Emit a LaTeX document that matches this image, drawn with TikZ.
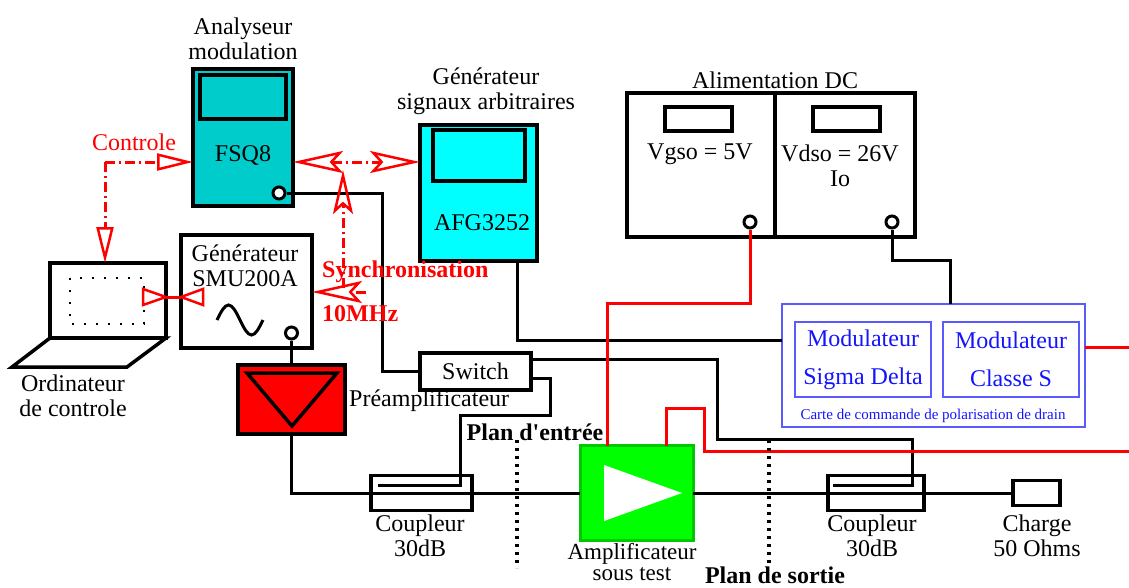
\documentclass[tikz,border=0pt]{standalone}
\usepackage{fontspec}
\setmainfont{Liberation Serif}
\usetikzlibrary{arrows.meta}

\definecolor{fsqcyan}{RGB}{0,204,204}
\definecolor{afgcyan}{RGB}{0,255,255}
\definecolor{dutgreen}{RGB}{0,255,0}
\definecolor{dutedge}{RGB}{0,200,0}
\definecolor{modline}{RGB}{90,90,255}
\definecolor{modtext}{RGB}{20,20,255}

\newcommand{\lblfont}{\fontsize{24}{25}\selectfont}

\tikzset{
  ctltip/.tip={Triangle[open, length=36pt, width=17pt, line width=2.5pt]},
  synctip/.tip={Stealth[open, length=50pt, width=22pt, inset=10pt, line width=2.5pt]},
  droptip/.tip={Stealth[open, length=44pt, width=20pt, inset=9pt, line width=2.5pt]},
}

\begin{document}
\begin{tikzpicture}[
    x=1pt, y=-1pt,
    txt/.style={font=\lblfont, align=center, inner sep=0pt},
    unit/.style={draw, line width=3.5pt, inner sep=0pt, outer sep=0pt},
    wh/.style 2 args={minimum width=#1pt, minimum height=#2pt},
    port/.style={circle, draw, line width=3pt, fill=white, minimum size=12pt, inner sep=0pt},
    wire/.style={line width=3pt},
    bias/.style={draw=red, line width=3pt},
    ctrl/.style={draw=red, line width=3pt, dash pattern=on 10pt off 4pt on 2pt off 4pt},
    plane/.style={line width=3.5pt, dash pattern=on 3pt off 5pt},
    modbox/.style={draw=modline, line width=1.8pt, inner sep=0pt, outer sep=0pt},
  ]
  \useasboundingbox (0,0) rectangle (1129,587);

  % analyseur FSQ8
  \node[unit, wh={100}{137}, fill=fsqcyan] (fsq) at (243,137.5) {};
  \node[unit, wh={86}{44}] (fsqscreen) at (243,97) {};
  \node[txt] (fsqname) at (243,155) {FSQ8};
  \node[txt] (fsqlabel) at (243,39) {Analyseur\\modulation};
  \node[port] (fsqport) at (279,193) {};

  % generateur AFG
  \node[unit, wh={117}{136}, fill=afgcyan] (afg) at (478.5,193) {};
  \node[unit, wh={92}{51}] (afgscreen) at (479,155.5) {};
  \node[txt] (afgname) at (482,223) {AFG3252};
  \node[txt] (afglabel) at (486,91) {Générateur\\signaux arbitraires};

  % ordinateur
  \node[unit, wh={116}{75}] (pc) at (108,300.5) {};
  \draw[line width=3.5pt] (pc.south west) -- (pc.south east) -- (127,367) -- (12,367) -- cycle;
  \draw[line width=1.5pt, dash pattern=on 2pt off 10pt] (70,278) rectangle (144,324);
  \node[txt] (pclabel) at (73,396) {Ordinateur\\de controle};

  % generateur SMU
  \node[unit, wh={131}{113}] (smu) at (246.5,291.5) {};
  \node[txt] (smuname) at (245,265.5) {Générateur\\SMU200A};
  \draw[wire] (217,320) sin (228.5,305) cos (240,320) sin (251.5,335) cos (263,320);
  \node[port] (smuport) at (291.5,333) {};

  % preampli
  \node[unit, wh={107}{69}, fill=red] (preamp) at (291.5,399.5) {};
  \draw[line width=3.5pt] (247,373) -- (337,373) -- (292,426) -- cycle;
  \node[txt, anchor=west] (preamplabel) at (349,401) {Préamplificateur};

  % switch
  \node[unit, txt, wh={111}{37}] (sw) at (475.5,371.5) {Switch};

  % coupleurs, ampli, charge
  \node[unit, wh={101}{35}] (cpl1) at (421.5,493) {};
  \node[txt] (cpl1label) at (420,536) {Coupleur\\30dB};
  \node[draw=dutedge, line width=3pt, fill=dutgreen, wh={113}{95}, inner sep=0pt, outer sep=0pt] (dut) at (636.5,493) {};
  \fill[white] (604,465) -- (604,521) -- (682,493) -- cycle;
  \node[txt, font=\fontsize{23}{21}\selectfont, anchor=north] (dutlabel) at (632,543) {Amplificateur\\sous test};
  \node[unit, wh={96}{35}] (cpl2) at (876,493) {};
  \node[txt] (cpl2label) at (872,536) {Coupleur\\30dB};
  \node[unit, wh={47}{25}] (load) at (1036.5,493) {};
  \node[txt] (loadlabel) at (1037,536) {Charge\\50 Ohms};

  % alimentation DC
  \node[unit, wh={148}{144}] (vgs) at (701,165) {};
  \node[unit, wh={140}{144}] (vds) at (845,165) {};
  \node[unit, wh={67}{24}] (vgsdisp) at (698.5,119) {};
  \node[unit, wh={67}{24}] (vdsdisp) at (846.5,119) {};
  \node[txt] (vgsval) at (700,154) {Vgso = 5V};
  \node[txt] (vdsval) at (840,166) {Vdso = 26V\\Io};
  \node[txt] (dclabel) at (775,80) {Alimentation DC};
  \node[port] (dcA) at (750,222) {};
  \node[port] (dcB) at (892,222) {};

  % carte modulateur
  \node[modbox, wh={303}{123}] (mod) at (933.5,365.5) {};
  \node[modbox, wh={136}{75}, txt, text=modtext] (sigdelta) at (863,359.5) {Modulateur\\[13pt]Sigma Delta};
  \node[modbox, wh={136}{75}, txt, text=modtext] (classs) at (1011,359.5) {Modulateur\\[13pt]Classe S};
  \node[text=modtext, font=\fontsize{15}{18}\selectfont, inner sep=0pt] (modlabel) at (933,416) {Carte de commande de polarisation de drain};

  % liaisons RF
  \coordinate (afgout) at (517,261);
  \coordinate (modin) at (782,340);
  \coordinate (swA) at (531,359);
  \coordinate (swB) at (531,378);
  \draw[wire] (fsqport) -- (382,193) |- (sw.west);
  \draw[wire] (smuport) -- (preamp.north);
  \draw[wire] (preamp.south) |- (dut.west);
  \draw[wire] (dut.east) -- (load.west);
  \draw[wire] (afgout) |- (modin);
  \draw[wire] (swA) -| (717,439) -| (912,485) -- (833,485);
  \draw[wire] (swB) -| (550,415) -| (460,485) -- (378,485);
  \draw[wire] (dcB) |- (950,260) -- (950,304);

  % polarisation
  \coordinate (gateA) at (607,446);
  \coordinate (drainA) at (666,446);
  \coordinate (drainB) at (1129,451);
  \coordinate (modout) at (1085,347);
  \coordinate (drainC) at (1129,347);
  \draw[bias] (dcA) |- (607,303) -- (gateA);
  \draw[bias] (drainA) |- (704,408) |- (drainB);
  \draw[bias] (modout) -- (drainC);

  % plans de reference
  \draw[plane] (517,440) -- (517,568);
  \draw[plane] (769,440) -- (769,567);
  \node[txt, font=\lblfont\bfseries] (planin) at (535,432) {Plan d\textquotesingle entrée};
  \node[txt, font=\lblfont\bfseries] (planout) at (775,575) {Plan de sortie};

  % controle et synchronisation
  \coordinate (ctlbend) at (105,162);
  \draw[ctrl, -ctltip] (ctlbend) -- (ctlbend -| fsq.west);
  \draw[ctrl, -ctltip] (ctlbend) -- (ctlbend |- pc.north);
  \node[txt, text=red] (ctllabel) at (134,142) {Controle};

  \coordinate (pclink) at (170,297);
  \draw[bias] (pclink -| pc.east) -- (pclink -| smu.west);
  \draw[bias, line width=2.5pt, fill=white] (pclink -| pc.east) -- ++(-23,-8) -- ++(0,16) -- cycle;
  \draw[bias, line width=2.5pt, fill=white] (pclink -| smu.west) -- ++(22,-8) -- ++(0,16) -- cycle;

  \coordinate (syncjoin) at (343,162);
  \coordinate (syncup) at (343,170);
  \coordinate (syncdrop) at (343,288);
  \coordinate (synclock) at (366,292);
  \draw[ctrl, synctip-synctip] (syncjoin -| fsq.east) -- (syncjoin -| afg.west);
  \draw[ctrl, -droptip] (syncdrop) -- (syncup);
  \draw[ctrl, -synctip] (synclock) -- (synclock -| smu.east);
  \node[txt, text=red, font=\lblfont\bfseries, anchor=west] (synclabel) at (322,272) {Synchronisation};
  \node[txt, text=red, font=\lblfont\bfseries, anchor=west] (reflabel) at (322,314) {10MHz};
\end{tikzpicture}
\end{document}
